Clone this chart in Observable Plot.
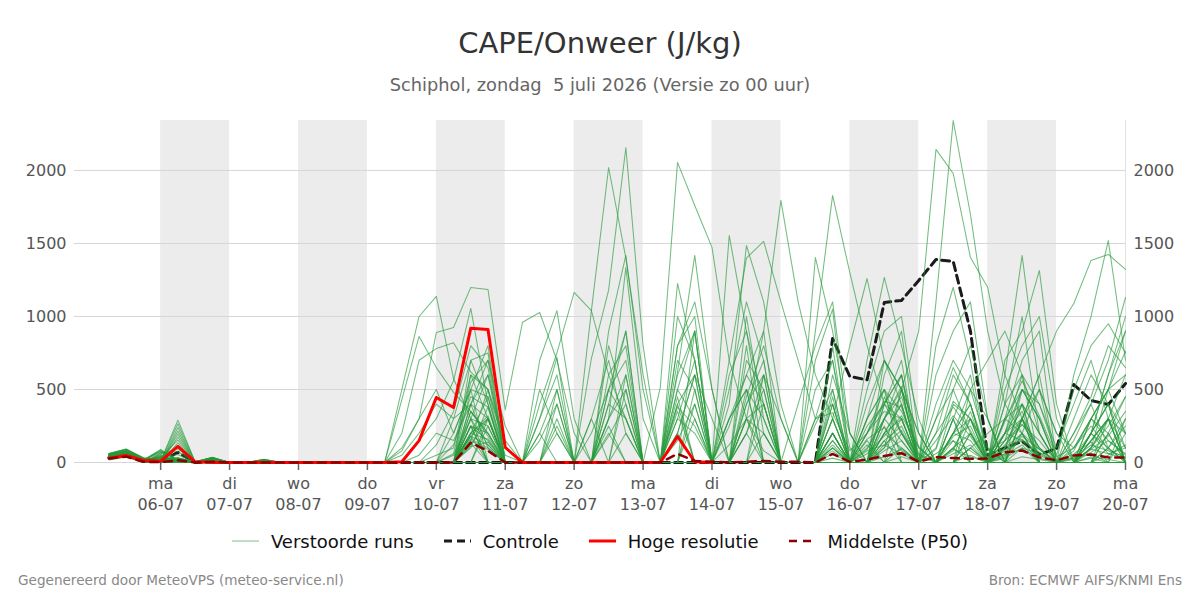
<!DOCTYPE html>
<html>
<head>
<meta charset="utf-8">
<script src="https://cdn.jsdelivr.net/npm/d3@7"></script>
<script src="https://cdn.jsdelivr.net/npm/@observablehq/plot@0.6"></script>
<style>
  body { margin: 0; background: #fff; font-family: "DejaVu Sans", sans-serif; }
  #wrap { position: relative; width: 1200px; height: 600px; overflow: hidden; }
  #title { position: absolute; top: 26px; left: 0; width: 1200px; text-align: center; font-size: 29px; line-height: 34px; color: #333; }
  #subtitle { position: absolute; top: 74px; left: 0; width: 1200px; text-align: center; font-size: 17.8px; line-height: 21px; color: #666; white-space: pre; }
  #chart { position: absolute; top: 105px; left: 0; }
  #legend { position: absolute; top: 531px; left: 0; width: 1200px; height: 20px; display: flex; justify-content: center; align-items: center; font-size: 18px; color: #111; }
  #legend .item { display: flex; align-items: center; margin: 0 15px; }
  #legend svg { margin-right: 12px; }
  .foot { position: absolute; top: 572px; font-size: 13.6px; line-height: 16px; color: #888; }
</style>
</head>
<body>
<div id="wrap">
  <div id="title">CAPE/Onweer (J/kg)</div>
  <div id="subtitle">Schiphol, zondag  5 juli 2026 (Versie zo 00 uur)</div>
  <div id="chart"></div>
  <div id="legend"></div>
  <div class="foot" style="left:18px">Gegenereerd door MeteoVPS (meteo-service.nl)</div>
  <div class="foot" style="right:18px">Bron: ECMWF AIFS/KNMI Ens</div>
</div>
<script>
// Forecast steps: every 6 hours from Sunday 5 July 2026 06 UTC up to Monday 20 July 00 UTC
const firstStep = Date.UTC(2026, 6, 5, 6);
const stepHours = 6;

// CAPE (J/kg) per ensemble member
const run01 = [50,80,20,0,135,0,20,0,0,15,0,0,0,0,0,0, 0,500,1000,1137,575,300,120,0, 0,0,250,0,0,400,300,0, 0,0,0,0,120,300,80,0, 0,0,150,0,90,300,450,60, 0,180,250,0,60,200,90,0, 30,120,80,40];
const run02 = [40,60,10,0,30,0,10,0,0,5,0,0,0,0,0,0, 0,430,863,650,480,350,200,0, 0,300,720,0,0,0,0,0, 0,380,250,0,0,450,800,300, 0,0,60,0,0,120,220,0, 90,420,300,80,150,260,100,0, 0,70,150,60];
const run03 = [55,75,25,30,155,0,30,0,0,0,0,0,0,0,0,0, 0,80,300,890,925,1199,1185,360, 960,1027,700,200,0,0,0,0, 0,150,400,0,0,0,0,0, 0,300,340,80,200,500,350,100, 0,200,150,0,60,90,30,0, 0,40,20,0];
const run04 = [60,90,30,10,290,5,35,0,0,20,0,0,0,5,0,0, 0,0,150,300,560,1055,400,0, 0,0,0,0,0,180,400,0, 0,620,1418,500,0,0,0,0, 0,0,30,0,160,240,80,0, 300,650,400,50,200,150,0,0, 40,200,60,100];
const run05 = [45,70,15,85,20,0,25,0,0,10,0,0,0,0,0,0, 0,200,700,780,820,620,500,150, 0,0,0,0,0,300,600,0, 0,0,0,0,0,200,500,0, 0,0,0,0,60,180,320,110, 0,90,40,0,280,560,320,40, 100,250,90,30];
const run06 = [35,55,10,0,240,0,15,0,0,0,0,0,0,0,0,0, 0,0,0,120,350,800,650,0, 0,700,1040,300,0,0,0,0, 0,600,900,0,0,0,0,0, 0,260,500,0,0,0,40,0, 0,300,600,0,100,400,0,0, 0,200,100,0];
const run07 = [30,50,5,0,0,0,5,0,0,0,0,0,0,0,0,0, 0,0,0,0,0,400,700,250, 0,400,750,1165,1040,600,300,0, 0,0,0,0,300,600,400,0, 0,0,0,0,80,120,60,0, 200,380,220,0,0,40,20,0, 0,90,180,350];
const run08 = [25,45,5,0,195,0,10,0,0,5,0,0,0,0,0,0, 0,0,0,0,0,250,150,0, 0,0,200,0,712,1180,2157,800, 0,0,0,0,0,0,0,0, 0,300,700,100,0,200,400,0, 0,60,120,0,80,150,70,0, 30,60,0,0];
const run09 = [20,40,0,60,95,0,0,0,0,0,0,0,0,0,0,0, 0,0,0,0,50,300,250,0, 0,0,0,0,1040,2020,1400,600, 0,400,600,0,0,0,0,0, 0,0,200,0,0,80,150,0, 0,300,0,0,30,100,60,0, 0,0,50,120];
const run10 = [40,65,10,40,55,0,5,0,0,10,0,0,0,0,0,0, 0,0,0,0,0,180,300,0, 0,0,0,0,0,900,1418,500, 0,0,0,0,0,300,200,0, 0,0,120,0,200,420,380,0, 150,320,180,0,90,160,50,0, 20,90,60,30];
const run11 = [42,62,12,0,25,0,8,0,0,5,0,0,0,0,0,0, 0,0,0,0,0,160,100,0, 0,0,0,0,0,0,0,0, 514,2055,1760,1473,700,300,0,0, 0,0,200,0,0,40,90,0, 0,0,0,0,120,260,150,0, 0,30,0,0];
const run12 = [52,82,22,0,115,0,18,0,0,12,0,0,0,0,0,0, 0,0,0,0,120,450,380,0, 0,0,0,0,0,300,1336,300, 0,1226,700,0,0,0,0,0, 0,0,200,0,300,700,400,0, 60,150,80,0,200,350,0,0, 0,150,300,0];
const run13 = [32,52,6,0,10,0,4,0,0,0,0,0,0,0,0,0, 0,0,0,0,0,200,320,0, 0,0,0,0,0,500,900,0, 0,0,300,0,1555,900,200,0, 0,0,80,0,100,300,520,0, 0,0,0,0,40,180,90,0, 60,140,0,0];
const run14 = [46,72,16,80,15,0,24,0,0,10,0,0,0,0,0,0, 0,0,0,0,0,200,300,0, 0,200,500,0,0,0,0,0, 0,200,600,0,400,1486,1100,400, 0,0,0,0,0,0,100,0, 0,80,350,0,0,0,0,0, 150,400,700,1130];
const run15 = [36,56,10,0,215,0,14,0,0,0,0,0,0,0,0,0, 0,0,0,0,0,350,200,0, 0,0,0,0,0,0,0,0, 0,0,0,0,700,1400,1514,1100, 700,300,400,0,0,300,600,0, 0,0,100,200,300,400,200,0, 0,0,0,0];
const run16 = [26,46,6,0,175,0,10,0,0,5,0,0,0,0,0,0, 0,0,0,0,0,250,0,0, 0,0,0,0,300,700,200,0, 0,0,0,0,0,300,900,1795, 1100,600,300,0,0,0,0,0, 0,200,500,300,0,0,0,0, 0,200,400,0];
const run17 = [56,76,26,30,20,0,30,0,0,0,0,0,0,0,0,0, 0,0,0,0,0,120,300,0, 0,0,400,0,0,0,0,0, 0,300,700,0,0,0,0,0, 0,1404,900,200,0,0,0,0, 0,0,0,0,200,300,100,0, 80,300,500,760];
const run18 = [38,64,10,40,10,0,5,0,0,10,0,0,0,0,0,0, 0,0,0,0,0,150,90,0, 0,0,0,0,0,0,0,0, 0,0,0,0,300,500,0,0, 0,900,1829,1300,800,400,200,0, 0,0,200,0,0,0,0,0, 0,150,300,600];
const run19 = [41,61,11,0,20,0,10,0,0,5,0,0,0,0,0,0, 0,0,0,0,200,500,0,0, 0,0,0,0,0,300,500,0, 0,200,0,0,0,0,0,0, 0,0,300,800,1260,700,500,200, 0,100,300,0,150,300,500,200, 100,300,200,0];
const run20 = [58,88,28,10,265,5,33,0,0,18,0,0,0,5,0,0, 0,0,0,0,0,300,0,0, 0,0,0,0,0,0,0,0, 0,0,0,0,0,400,700,0, 0,0,500,0,700,1267,800,300, 0,0,0,0,400,600,200,0, 0,0,0,0];
const run21 = [22,42,0,55,15,0,0,0,0,0,0,0,0,0,0,0, 0,0,0,0,0,0,0,0, 0,0,0,0,0,200,0,0, 0,300,200,0,0,0,0,0, 0,0,0,0,0,0,500,900, 2144,1979,1404,1200,600,300,0,0, 0,300,500,900];
const run22 = [44,68,14,70,20,0,22,0,0,8,0,0,0,0,0,0, 0,0,0,0,0,200,160,0, 0,0,0,0,0,0,0,0, 0,800,1000,0,0,0,0,0, 0,0,0,0,0,100,300,0, 1100,2342,1700,900,400,200,0,0, 0,100,300,200];
const run23 = [34,54,9,0,30,0,16,0,0,0,0,0,0,0,0,0, 0,0,0,0,0,180,120,0, 0,0,0,0,0,0,0,0, 0,0,0,0,600,900,400,0, 0,0,200,0,0,400,700,0, 0,200,400,0,600,1418,500,0, 0,0,200,0];
const run24 = [24,44,4,0,10,0,9,0,0,4,0,0,0,0,0,0, 0,0,0,0,0,0,0,0, 0,300,600,0,0,0,0,0, 0,0,0,0,0,0,0,0, 0,0,100,0,300,500,200,0, 0,0,0,0,700,900,1315,400, 0,200,400,0];
const run25 = [54,74,24,20,25,0,28,0,0,0,0,0,0,0,0,0, 0,0,0,0,0,110,140,0, 0,0,0,0,0,0,0,0, 0,0,500,0,0,0,0,0, 0,0,0,0,200,400,300,0, 0,0,0,0,0,300,600,900, 1089,1384,1425,1322];
const run26 = [39,66,9,35,5,0,5,0,0,9,0,0,0,0,0,0, 0,0,0,0,0,0,250,0, 0,0,0,0,0,400,900,0, 0,0,0,0,0,0,0,0, 0,0,0,0,0,700,500,0, 0,0,0,0,200,500,300,0, 600,1000,1520,700];
const run27 = [43,63,13,0,20,0,12,0,0,6,0,0,0,0,0,0, 0,0,0,0,0,400,300,0, 0,150,400,0,0,0,200,0, 0,500,300,0,0,200,600,0, 0,0,100,0,250,400,600,100, 0,200,300,0,100,400,200,0, 100,300,150,50];
const run28 = [48,78,18,0,15,0,16,0,0,14,0,0,0,0,0,0, 0,0,0,50,100,600,500,100, 0,0,0,0,200,500,300,0, 0,0,0,0,300,500,0,0, 0,0,200,0,0,600,900,0, 0,0,100,0,300,200,0,0, 0,300,500,200];
const run29 = [28,48,4,0,0,0,4,0,0,0,0,0,0,0,0,0, 0,0,0,0,0,300,600,0, 0,0,300,0,0,250,0,0, 0,700,500,0,0,0,200,0, 0,0,400,0,120,0,200,0, 100,500,800,300,0,100,0,0, 0,150,300,0];
const run30 = [62,92,32,12,25,4,36,0,0,22,0,0,0,6,0,0, 0,0,0,0,60,550,700,0, 0,0,0,0,0,0,500,0, 0,0,900,0,0,500,300,0, 0,0,600,200,0,300,150,0, 0,400,300,100,0,300,100,0, 200,400,100,0];
const run31 = [18,38,0,65,75,0,0,0,0,0,0,0,0,0,0,0, 0,0,0,0,0,200,450,0, 0,0,0,0,0,500,700,0, 0,0,0,0,0,0,0,0, 0,700,1050,0,0,200,300,0, 200,600,400,0,150,500,300,0, 0,0,0,200];
const run32 = [47,71,17,90,10,0,26,0,0,11,0,0,0,0,0,0, 0,50,200,400,300,700,400,0, 0,0,0,0,0,0,0,0, 0,450,0,0,0,0,0,0, 0,0,300,0,0,450,200,50, 0,0,100,0,300,500,400,50, 500,800,950,750];
const run33 = [37,57,11,0,20,0,13,0,0,0,0,0,0,0,0,0, 0,100,300,500,200,500,800,0, 0,0,0,0,0,0,0,0, 0,0,0,0,0,300,400,0, 0,0,0,0,400,700,500,200, 0,0,200,0,0,0,0,0, 0,200,400,100];
const run34 = [27,47,6,0,15,0,11,0,0,6,0,0,0,0,0,0, 0,0,0,0,0,600,300,0, 0,200,0,0,0,0,0,0, 0,1000,700,0,0,0,0,0, 0,0,150,0,0,0,0,0, 600,900,1100,300,0,200,500,200, 0,0,300,100];
const run35 = [57,77,27,25,30,0,31,0,0,0,0,0,0,0,0,0, 0,0,50,200,150,400,600,100, 0,0,0,0,0,0,0,0, 0,0,0,0,500,1100,700,0, 0,0,0,0,0,0,0,0, 0,0,50,0,500,800,1000,300, 0,200,600,1000];
const run36 = [40,67,10,45,10,0,6,0,0,11,0,0,0,0,0,0, 0,0,0,0,0,700,750,0, 0,0,0,0,0,600,800,0, 0,0,0,0,0,0,400,0, 0,0,800,0,0,300,500,0, 0,0,0,0,100,300,0,0, 300,600,400,200];
const run37 = [39,59,9,0,25,0,9,0,0,4,0,0,0,0,0,0, 0,0,0,0,300,400,100,0, 0,0,0,0,0,0,0,0, 0,200,600,300,0,700,500,0, 0,0,0,0,0,400,600,0, 300,500,200,0,0,0,0,0, 0,100,250,450];
const run38 = [51,79,21,0,20,0,19,0,0,13,0,0,0,0,0,0, 0,0,0,0,0,0,300,0, 0,500,200,0,0,0,0,0, 0,0,400,0,0,0,0,0, 400,800,1100,200,0,100,500,0, 0,0,300,0,200,600,400,100, 400,700,300,0];
const run39 = [31,51,5,0,15,0,6,0,0,0,0,0,0,0,0,0, 0,0,0,0,0,250,200,0, 0,0,0,0,0,800,400,0, 0,800,1100,500,0,200,0,0, 0,0,0,0,150,0,0,0, 0,300,0,0,400,1000,200,0, 0,0,100,300];
const run40 = [59,89,29,8,30,5,34,0,0,19,0,0,0,4,0,0, 0,0,0,0,0,500,450,50, 0,0,0,0,0,0,0,0, 0,0,0,0,0,400,600,0, 0,500,700,0,0,0,0,0, 800,1200,700,0,0,300,600,0, 0,0,0,0];
const run41 = [21,41,0,50,10,0,0,0,0,0,0,0,0,0,0,0, 0,0,0,0,0,150,500,0, 0,0,0,0,300,0,0,0, 0,0,0,0,250,600,900,0, 0,0,450,0,0,200,100,0, 0,0,0,0,100,200,0,0, 0,100,300,0];
const run42 = [45,69,15,75,15,0,23,0,0,9,0,0,0,0,0,0, 0,0,0,0,0,350,180,0, 0,0,0,0,0,0,0,0, 0,350,0,0,0,0,0,0, 0,0,0,0,500,900,1000,200, 0,200,400,0,0,0,0,0, 0,100,500,600];
const run43 = [33,53,8,0,20,0,15,0,0,0,0,0,0,0,0,0, 0,0,0,0,0,100,380,0, 0,0,500,0,0,0,0,0, 0,0,0,0,0,0,0,0, 0,0,300,0,0,200,400,0, 0,0,500,700,900,600,0,0, 0,200,600,900];
const run44 = [23,43,3,0,5,0,8,0,0,3,0,0,0,0,0,0, 0,0,0,0,0,130,0,0, 0,0,0,0,0,0,0,0, 0,500,900,0,0,1000,300,0, 0,0,0,0,300,500,0,0, 0,0,0,0,200,400,0,0, 0,0,0,0];
const run45 = [53,73,23,28,25,0,29,0,0,0,0,0,0,0,0,0, 0,0,0,0,0,0,0,0, 0,0,0,0,0,0,600,0, 0,0,0,0,0,800,0,0, 0,0,0,0,0,150,250,0, 0,100,0,0,50,120,0,0, 200,450,800,650];
const run46 = [42,66,11,38,10,0,5,0,0,10,0,0,0,0,0,0, 0,0,0,0,0,250,0,0, 0,0,0,0,0,0,0,0, 0,0,0,0,0,0,600,300, 0,0,200,0,0,150,0,0, 400,700,500,100,0,0,0,0, 0,0,200,450];
const run47 = [40,58,10,0,15,0,11,0,0,5,0,0,0,0,0,0, 0,0,0,0,0,0,0,0, 0,0,0,0,0,0,0,0, 0,400,0,0,0,0,0,0, 0,0,0,0,200,350,300,0, 0,150,0,0,0,500,300,0, 0,0,0,300];
const run48 = [49,81,19,0,20,0,21,0,0,16,0,0,0,0,0,0, 0,0,0,0,0,180,0,0, 0,0,0,0,0,0,0,0, 0,0,0,0,0,0,0,0, 0,0,400,0,0,0,0,0, 0,0,0,0,300,700,900,0, 0,0,0,0];
const run49 = [29,49,5,0,5,0,5,0,0,0,0,0,0,0,0,0, 0,0,0,0,0,0,0,0, 0,0,0,0,0,0,0,0, 0,0,0,0,0,0,0,0, 0,0,100,0,0,0,0,0, 0,0,0,0,0,300,0,0, 0,0,100,250];
const run50 = [61,91,31,11,30,5,35,0,0,21,0,0,0,5,0,0, 0,0,0,0,0,0,0,0, 0,0,0,0,0,0,0,0, 0,0,0,0,0,0,0,0, 0,0,0,0,0,250,0,0, 0,100,200,0,0,0,0,0, 0,0,0,0];

const perturbed = [run01, run02, run03, run04, run05, run06, run07, run08, run09, run10,
  run11, run12, run13, run14, run15, run16, run17, run18, run19, run20,
  run21, run22, run23, run24, run25, run26, run27, run28, run29, run30,
  run31, run32, run33, run34, run35, run36, run37, run38, run39, run40,
  run41, run42, run43, run44, run45, run46, run47, run48, run49, run50];

// Control run
const control = [35,50,10,5,70,0,5,0,0,0,0,0,0,0,0,0, 0,0,0,0,0,0,0,0, 0,0,0,0,0,0,0,0, 0,0,0,0,0,0,0,0,
  0,0,849,589,566,1096,1110,1247, 1390,1377,900,50,100,145,55,95, 534,425,397,541];

// High-resolution run (shorter range)
const hires = [30,48,14,10,110,5,0,0,0,0,0,0,0,0,0,0, 0,5,150,445,377,920,911,103, 0,0,0,0,0,0,0,0, 0,178,5,0];

// Ensemble median (P50)
const median = [28,40,5,3,15,0,5,0,0,0,0,0,0,0,0,0, 0,0,0,0,0,135,80,0, 0,0,0,0,0,0,0,0,
  0,59,10,5,0,5,10,5, 5,0,59,5,20,45,64,5, 37,30,25,28,70,82,35,15, 48,55,35,35];

// Axis ticks and day shading
const yTicks = [0, 500, 1000, 1500, 2000];
const weekdayNames = ["zo", "ma", "di", "wo", "do", "vr", "za"];
const tickDays = ["2026-07-06","2026-07-07","2026-07-08","2026-07-09","2026-07-10","2026-07-11","2026-07-12",
  "2026-07-13","2026-07-14","2026-07-15","2026-07-16","2026-07-17","2026-07-18","2026-07-19","2026-07-20"].map(s => new Date(s + "T00:00Z"));
const shadedDays = ["2026-07-06","2026-07-08","2026-07-10","2026-07-12","2026-07-14","2026-07-16","2026-07-18"].map(s => new Date(s + "T00:00Z"));
const xStart = new Date(Date.UTC(2026, 6, 4, 18));
const xEnd = new Date(Date.UTC(2026, 6, 20, 0));

const stepTime = i => new Date(firstStep + i * stepHours * 3600e3);
const toRows = (values, name) => values.map((v, i) => ({run: name, t: stepTime(i), v}));

const ensembleRows = perturbed.flatMap((values, k) => toRows(values, "run" + (k + 1)));
const controlRows = toRows(control, "controle");
const hiresRows = toRows(hires, "hres");
const medianRows = toRows(median, "p50");
const yMax = d3.max(ensembleRows.concat(controlRows, hiresRows), d => d.v);

const pad = n => String(n).padStart(2, "0");
const dayLabel = d => `${weekdayNames[d.getUTCDay()]}\n${pad(d.getUTCDate())}-${pad(d.getUTCMonth() + 1)}`;

const chart = Plot.plot({
  width: 1200,
  height: 417,
  marginTop: 15,
  marginBottom: 60,
  marginLeft: 74,
  marginRight: 75,
  style: {fontFamily: '"DejaVu Sans", sans-serif', fontSize: "16px", background: "transparent", overflow: "visible"},
  x: {type: "utc", domain: [xStart, xEnd]},
  y: {domain: [0, yMax]},
  marks: [
    Plot.rect(shadedDays, {x1: d => d, x2: d => d3.utcDay.offset(d, 1), fill: "#ececec"}),
    Plot.gridY(yTicks, {stroke: "#d6d6d6", strokeOpacity: 1, strokeWidth: 1}),
    Plot.ruleX([xEnd], {stroke: "#e2e2e2", strokeWidth: 1}),
    Plot.axisY(yTicks, {anchor: "left", tickSize: 0, tickPadding: 8, tickFormat: d3.format("d"), label: null, color: "#555"}),
    Plot.axisY(yTicks, {anchor: "right", tickSize: 0, tickPadding: 8, tickFormat: d3.format("d"), label: null, color: "#555"}),
    Plot.axisX(tickDays, {anchor: "bottom", tickSize: 8, tickPadding: 4, tickFormat: dayLabel, label: null,
      color: "#555", stroke: "#666", strokeWidth: 1.5, lineHeight: 1.3}),
    // control sits beneath the members so its zero stretch is covered by them
    Plot.line(controlRows, {x: "t", y: "v", stroke: "#1b1b1b", strokeWidth: 3, strokeDasharray: "8,5"}),
    Plot.line(ensembleRows, {x: "t", y: "v", z: "run", stroke: "#279a3a", strokeOpacity: 0.65, strokeWidth: 1.05}),
    Plot.line(hiresRows, {x: "t", y: "v", stroke: "#ff0000", strokeWidth: 3}),
    Plot.line(medianRows, {x: "t", y: "v", stroke: "#8b0000", strokeWidth: 2.5, strokeDasharray: "8,6"})
  ]
});
document.getElementById("chart").appendChild(chart);

// Legend
const legendItems = [
  {label: "Verstoorde runs", stroke: "#7fc08a", width: 1, dash: null},
  {label: "Controle", stroke: "#1b1b1b", width: 3, dash: "8,5"},
  {label: "Hoge resolutie", stroke: "#ff0000", width: 3, dash: null},
  {label: "Middelste (P50)", stroke: "#8b0000", width: 2.5, dash: "8,6"}
];
const legend = d3.select("#legend");
for (const item of legendItems) {
  const el = legend.append("div").attr("class", "item");
  const svg = el.append("svg").attr("width", 27).attr("height", 12);
  svg.append("line").attr("x1", 0).attr("x2", 27).attr("y1", 6).attr("y2", 6)
    .attr("stroke", item.stroke).attr("stroke-width", item.width)
    .attr("stroke-dasharray", item.dash);
  el.append("span").text(item.label);
}
</script>
</body>
</html>
